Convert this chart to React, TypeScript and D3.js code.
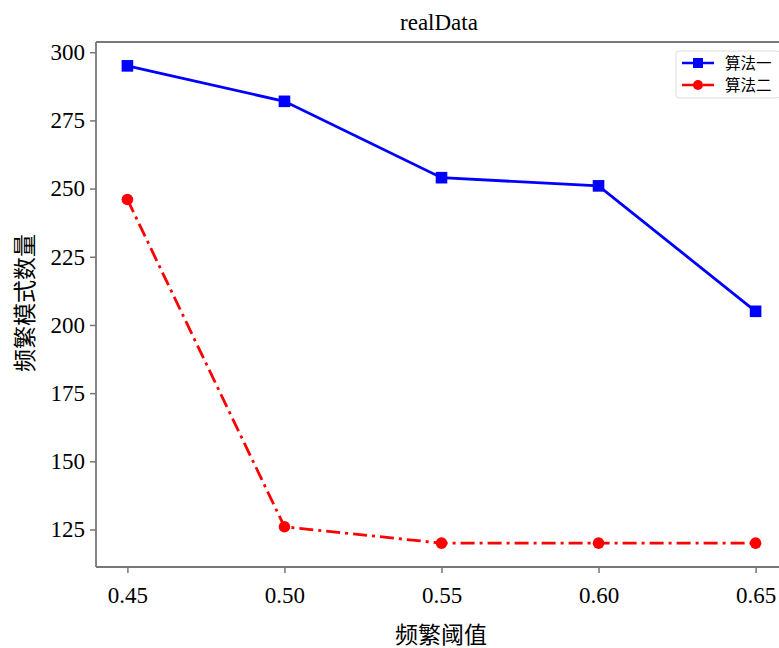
import React, { useRef, useEffect } from 'react';
import * as d3 from 'd3';

const thresholds = [0.45, 0.5, 0.55, 0.6, 0.65];
const algo1 = [295, 282, 254, 251, 205];
const algo2 = [246, 126, 120, 120, 120];
const yTicks = [125, 150, 175, 200, 225, 250, 275, 300];
const seriesNames = ['算法一', '算法二'];

const W = 779;
const H = 648;
const margin = { top: 42, right: -8, bottom: 81, left: 96 };
const serif = '"Liberation Serif", "Noto Sans CJK SC", serif';

const App = () => {
  const svgRef = useRef<SVGSVGElement>(null);

  useEffect(() => {
    const svg = d3.select(svgRef.current);
    svg.selectAll('*').remove();

    const innerW = W - margin.left - margin.right;
    const innerH = H - margin.top - margin.bottom;

    const x = d3.scaleLinear().domain([0.44, 0.66]).range([0, innerW]);
    const y = d3.scaleLinear().domain([111.25, 303.75]).range([innerH, 0]);

    const g = svg.append('g').attr('transform', `translate(${margin.left},${margin.top})`);

    // spines
    const spine = '#777';
    g.append('line').attr('x1', 0).attr('x2', innerW).attr('y1', 0).attr('y2', 0)
      .attr('stroke', spine).attr('stroke-width', 1.8);
    g.append('line').attr('x1', 0).attr('x2', innerW).attr('y1', innerH).attr('y2', innerH)
      .attr('stroke', spine).attr('stroke-width', 1.8);
    g.append('line').attr('x1', 0).attr('x2', 0).attr('y1', 0).attr('y2', innerH)
      .attr('stroke', spine).attr('stroke-width', 1.8);

    // axes
    const xAxis = g.append('g').attr('transform', `translate(0,${innerH})`)
      .call(d3.axisBottom(x).tickValues(thresholds).tickFormat(d3.format('.2f')).tickSize(6).tickPadding(14));
    const yAxis = g.append('g')
      .call(d3.axisLeft(y).tickValues(yTicks).tickSize(6).tickPadding(5));
    [xAxis, yAxis].forEach(a => {
      a.select('.domain').remove();
      a.selectAll('line').attr('stroke', spine).attr('stroke-width', 1.5);
      a.selectAll('text').attr('font-family', serif).attr('font-size', 23).attr('fill', '#000');
    });

    const line = d3.line<number>().x((_, i) => x(thresholds[i])).y(d => y(d));

    // series 2 (red, dash-dot)
    g.append('path').datum(algo2).attr('d', line).attr('fill', 'none')
      .attr('stroke', '#ff0000').attr('stroke-width', 2.8).attr('stroke-dasharray', '14,5,3,5');
    g.selectAll('.c2').data(algo2).enter().append('circle')
      .attr('cx', (_, i) => x(thresholds[i])).attr('cy', d => y(d)).attr('r', 5.8).attr('fill', '#ff0000');

    // series 1 (blue, squares)
    g.append('path').datum(algo1).attr('d', line).attr('fill', 'none')
      .attr('stroke', '#0000ff').attr('stroke-width', 2.8);
    g.selectAll('.s1').data(algo1).enter().append('rect')
      .attr('x', (_, i) => x(thresholds[i]) - 5.8).attr('y', d => y(d) - 5.8)
      .attr('width', 11.6).attr('height', 11.6).attr('fill', '#0000ff');

    // title and labels
    svg.append('text').attr('x', 439).attr('y', 30).attr('text-anchor', 'middle')
      .attr('font-family', serif).attr('font-size', 23).text('realData');
    svg.append('text').attr('x', 441).attr('y', 643).attr('text-anchor', 'middle')
      .attr('font-family', serif).attr('font-size', 23).text('频繁阈值');
    svg.append('text').attr('transform', `translate(33,303) rotate(-90)`)
      .attr('text-anchor', 'middle').attr('font-family', serif).attr('font-size', 23).text('频繁模式数量');

    // legend
    const lg = svg.append('g').attr('transform', 'translate(676,51)');
    lg.append('rect').attr('width', 104).attr('height', 47).attr('rx', 3)
      .attr('fill', '#fff').attr('stroke', '#dcdcdc').attr('stroke-width', 1);
    const items = [
      { color: '#0000ff', dash: null, marker: 'rect' },
      { color: '#ff0000', dash: '12,3,3,3', marker: 'circle' },
    ];
    items.forEach((it, i) => {
      const cy = 12 + i * 22;
      lg.append('line').attr('x1', 6).attr('x2', 38).attr('y1', cy).attr('y2', cy)
        .attr('stroke', it.color).attr('stroke-width', 2.5)
        .attr('stroke-dasharray', it.dash);
      if (it.marker === 'rect') {
        lg.append('rect').attr('x', 17).attr('y', cy - 5).attr('width', 10).attr('height', 10).attr('fill', it.color);
      } else {
        lg.append('circle').attr('cx', 22).attr('cy', cy).attr('r', 5).attr('fill', it.color);
      }
      lg.append('text').attr('x', 49).attr('y', cy + 6).attr('font-family', serif)
        .attr('font-size', 15.5).text(seriesNames[i]);
    });
  }, []);

  return (
    <div style={{ position: 'absolute', left: 0, top: 0, width: W, height: H, overflow: 'hidden', background: '#fff' }}>
      <svg ref={svgRef} width={W} height={H} style={{ display: 'block', overflow: 'hidden' }} />
    </div>
  );
};

export default App;
